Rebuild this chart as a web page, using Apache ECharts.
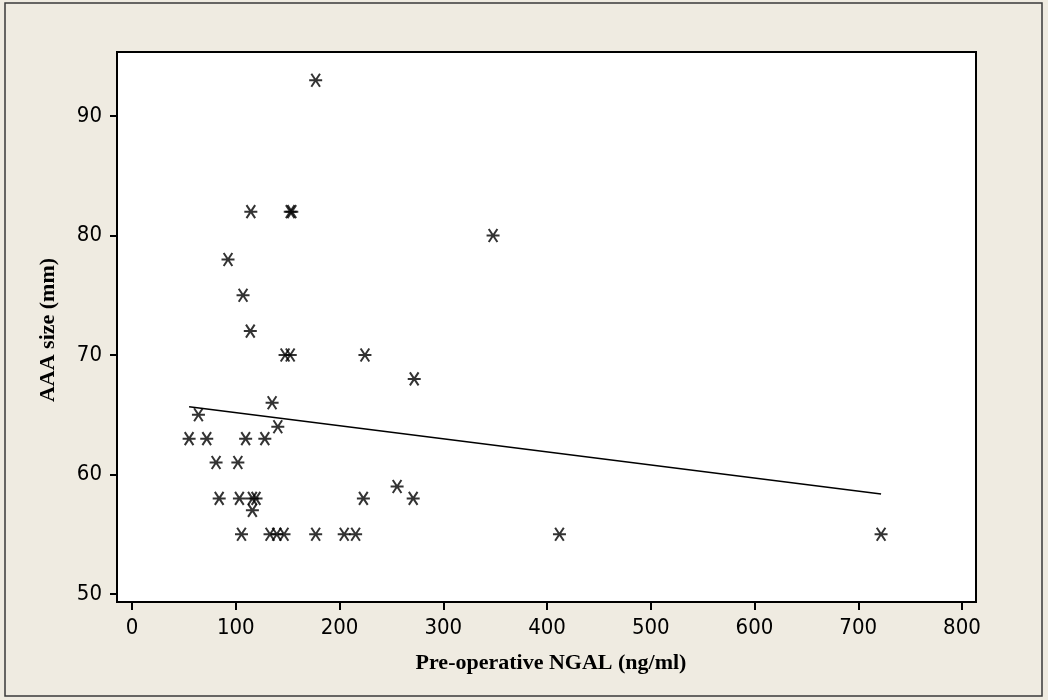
<!DOCTYPE html>
<html>
<head>
<meta charset="utf-8">
<script src="https://cdn.jsdelivr.net/npm/echarts@6/dist/echarts.min.js"></script>
<style>
  html, body { margin: 0; padding: 0; background: #EFEBE1; }
  #chart { width: 1048px; height: 700px; }
</style>
</head>
<body>
<div id="chart"></div>
<script>
// Pre-operative NGAL (ng/ml) for each patient
const ngal = [
  55, 64, 72, 81, 84, 92.5, 102, 103.5, 105.5, 107,
  109.5, 114.5, 114, 116, 116, 119.5, 128, 135, 133, 140.5,
  139.5, 146.5, 147.5, 152.5, 152.5, 154, 177, 177, 204.5, 215.5,
  223, 224.5, 255.5, 271, 272, 348, 412, 722
];
// AAA size (mm) for the same patients
const aaaSize = [
  63, 65, 63, 61, 58, 78, 61, 58, 55, 75,
  63, 82, 72, 58, 57, 58, 63, 66, 55, 64,
  55, 55, 70, 70, 82, 82, 93, 55, 55, 55,
  58, 70, 59, 58, 68, 80, 55, 55
];
// Fitted regression line, end points
const fitX = [55, 722];
const fitY = [65.67, 58.37];

const xTicks = [0, 100, 200, 300, 400, 500, 600, 700, 800];
const yTicks = [50, 60, 70, 80, 90];

const points = ngal.map((x, i) => [x, aaaSize[i]]);
const fitLine = fitX.map((x, i) => [x, fitY[i]]);

const tickFont = { fontFamily: '"DejaVu Sans Condensed", "DejaVu Sans", sans-serif', fontSize: 22, color: '#000' };
const titleFont = '"Liberation Serif", "Times New Roman", serif';

// six-armed asterisk: horizontal bar plus a cross
const starPath = 'path://M0,6L12,6M2,0.5L10,11.5M2,11.5L10,0.5';

const chart = echarts.init(document.getElementById('chart'), null, { renderer: 'canvas' });
chart.setOption({
  backgroundColor: '#EFEBE1',
  animation: false,
  grid: {
    left: 117, top: 52, width: 859, height: 550,
    show: true, backgroundColor: '#fff', borderColor: '#000', borderWidth: 2
  },
  xAxis: {
    type: 'value', min: -14.5, max: 813.5,
    axisLine: { show: true, onZero: false, lineStyle: { color: '#000', width: 2 } },
    axisTick: { show: true, length: 8, customValues: xTicks, lineStyle: { color: '#000', width: 2 } },
    axisLabel: Object.assign({ customValues: xTicks, margin: 15 }, tickFont),
    splitLine: { show: false }
  },
  yAxis: {
    type: 'value', min: 49.33, max: 95.36,
    axisLine: { show: true, onZero: false, lineStyle: { color: '#000', width: 2 } },
    axisTick: { show: true, length: 7, customValues: yTicks, lineStyle: { color: '#000', width: 2 } },
    axisLabel: Object.assign({ customValues: yTicks, margin: 15 }, tickFont),
    splitLine: { show: false }
  },
  graphic: [
    {
      type: 'rect', z: -10, silent: true,
      shape: { x: 5, y: 3, width: 1037, height: 693 },
      style: { fill: 'none', stroke: '#3a3a3a', lineWidth: 1.5 }
    },
    {
      type: 'text', z: 10,
      x: 551, y: 663,
      style: {
        x: 0, y: 0, text: 'Pre-operative NGAL (ng/ml)',
        font: 'bold 22px ' + titleFont, fill: '#000',
        textAlign: 'center', textVerticalAlign: 'middle'
      }
    },
    {
      type: 'text', z: 10,
      x: 48, y: 330, rotation: Math.PI / 2,
      style: {
        x: 0, y: 0, text: 'AAA size (mm)',
        font: 'bold 22px ' + titleFont, fill: '#000',
        textAlign: 'center', textVerticalAlign: 'middle'
      }
    }
  ],
  series: [
    {
      type: 'scatter',
      data: points,
      symbol: starPath,
      symbolSize: 13,
      itemStyle: { color: 'rgba(0,0,0,0)', borderColor: '#000', borderWidth: 2 },
      z: 3
    },
    {
      type: 'line',
      data: fitLine,
      symbol: 'none',
      lineStyle: { color: '#000', width: 1.5 },
      z: 2
    }
  ]
});
</script>
</body>
</html>
